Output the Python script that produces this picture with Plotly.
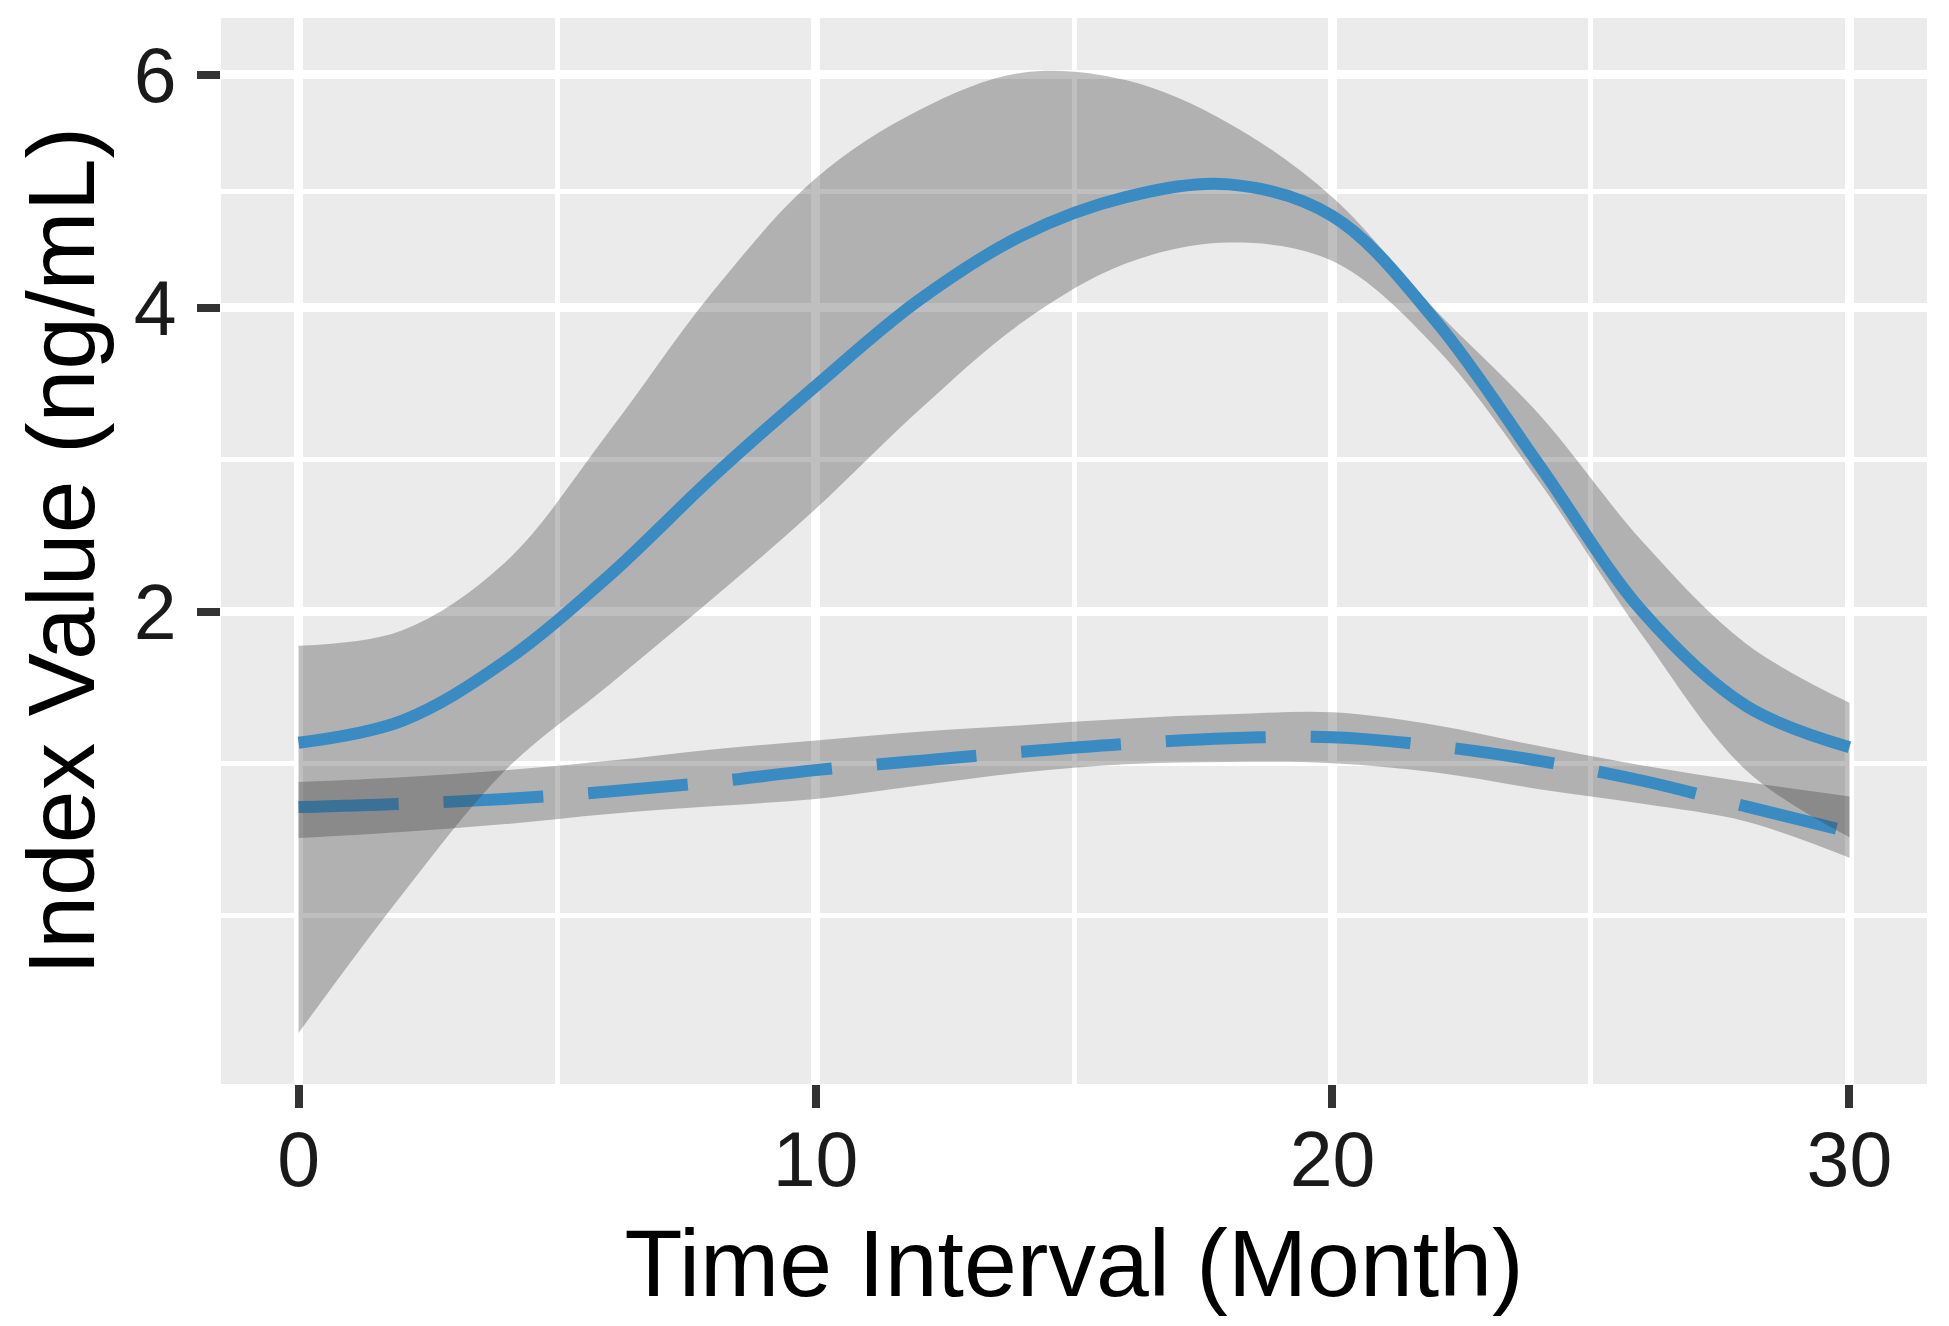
import numpy as np
import plotly.graph_objects as go

# months on the x axis
month = [0, 2, 4, 6, 8, 10, 12, 14, 16, 18, 20, 22, 24, 26, 28, 30]

# solid curve with its confidence band (ng/mL)
solid_fit = [1.35, 1.45, 1.74, 2.20, 2.80, 3.42, 4.06, 4.58, 4.90, 5.01, 4.74, 3.90, 2.88, 2.00, 1.52, 1.33]
solid_upper = [1.82, 1.90, 2.28, 3.10, 4.12, 5.06, 5.67, 6.02, 5.95, 5.55, 4.90, 3.98, 3.22, 2.40, 1.83, 1.535]
solid_lower = [0.363, 0.755, 1.23, 1.62, 2.07, 2.60, 3.25, 3.89, 4.35, 4.52, 4.37, 3.70, 2.77, 1.87, 1.23, 0.96]

# dashed curve with its confidence band (ng/mL)
dashed_fit = [1.077, 1.09, 1.11, 1.14, 1.18, 1.23, 1.27, 1.31, 1.345, 1.37, 1.375, 1.335, 1.27, 1.185, 1.08, 0.98]
dashed_upper = [1.18, 1.20, 1.23, 1.27, 1.32, 1.36, 1.40, 1.43, 1.46, 1.48, 1.49, 1.43, 1.335, 1.25, 1.18, 1.12]
dashed_lower = [0.957, 0.98, 1.01, 1.05, 1.08, 1.11, 1.165, 1.22, 1.255, 1.265, 1.26, 1.22, 1.15, 1.09, 1.02, 0.884]

# axis breaks
x_breaks = [0, 10, 20, 30]
x_minor = [5, 15, 25]
y_breaks = [2, 4, 6]

line_color = '#3A8BC2'
band_color = 'rgba(62,62,62,0.33)'
font = 'Liberation Sans, Arial, sans-serif'

# y axis is square-root scaled, so plot sqrt of the values
def sq(v):
    return np.sqrt(np.array(v, dtype=float))

# minor breaks in sqrt space: midpoints of majors plus one step below
yb = sq(y_breaks)
step = yb[1] - yb[0]
y_ext = np.concatenate([[yb[0] - step], yb])
y_minor = list(y_ext[:1]) + list((y_ext[:-1] + y_ext[1:]) / 2)

fig = go.Figure()

for fit, upper, lower, dash in [(dashed_fit, dashed_upper, dashed_lower, '100px,45px'),
                                (solid_fit, solid_upper, solid_lower, 'solid')]:
    # band: lower edge first, then upper edge filled down to it
    fig.add_trace(go.Scatter(x=month, y=sq(lower), mode='lines',
                             line=dict(width=0, shape='spline', smoothing=1),
                             hoverinfo='skip', showlegend=False))
    fig.add_trace(go.Scatter(x=month, y=sq(upper), mode='lines', fill='tonexty',
                             fillcolor=band_color,
                             line=dict(width=0, shape='spline', smoothing=1),
                             hoverinfo='skip', showlegend=False))
    # fitted curve
    fig.add_trace(go.Scatter(x=month, y=sq(fit), mode='lines',
                             line=dict(color=line_color, width=12, dash=dash,
                                       shape='spline', smoothing=1),
                             showlegend=False))

axis_common = dict(
    showgrid=True, gridcolor='white', gridwidth=9,
    zeroline=False, showline=False,
    ticks='outside', ticklen=23, tickwidth=8, tickcolor='#333333',
    tickfont=dict(family=font, size=77, color='#1a1a1a'),
)

# the page body adds an 8px offset, so the figure is a bit smaller than the window
fig.update_layout(
    width=1941, height=1318,
    margin=dict(l=213, r=22, t=10, b=242),
    paper_bgcolor='white', plot_bgcolor='#EBEBEB',
    xaxis=dict(
        range=[-1.5, 31.5],
        tickmode='array', tickvals=x_breaks, ticktext=[str(v) for v in x_breaks],
        minor=dict(tickvals=x_minor, showgrid=True, gridcolor='white', gridwidth=4.5, ticks=''),
        ticklabelstandoff=-14,
        title=dict(text='Time Interval (Month)', standoff=28,
                   font=dict(family=font, size=95, color='black')),
        **axis_common,
    ),
    yaxis=dict(
        range=[0.504, 2.559],
        tickmode='array', tickvals=list(yb), ticktext=[str(v) for v in y_breaks],
        minor=dict(tickvals=y_minor, showgrid=True, gridcolor='white', gridwidth=4.5, ticks=''),
        ticklabelstandoff=5,
        title=dict(text='Index Value (ng/mL)', standoff=29,
                   font=dict(family=font, size=95, color='black')),
        **axis_common,
    ),
)

fig.write_html("out.html")
